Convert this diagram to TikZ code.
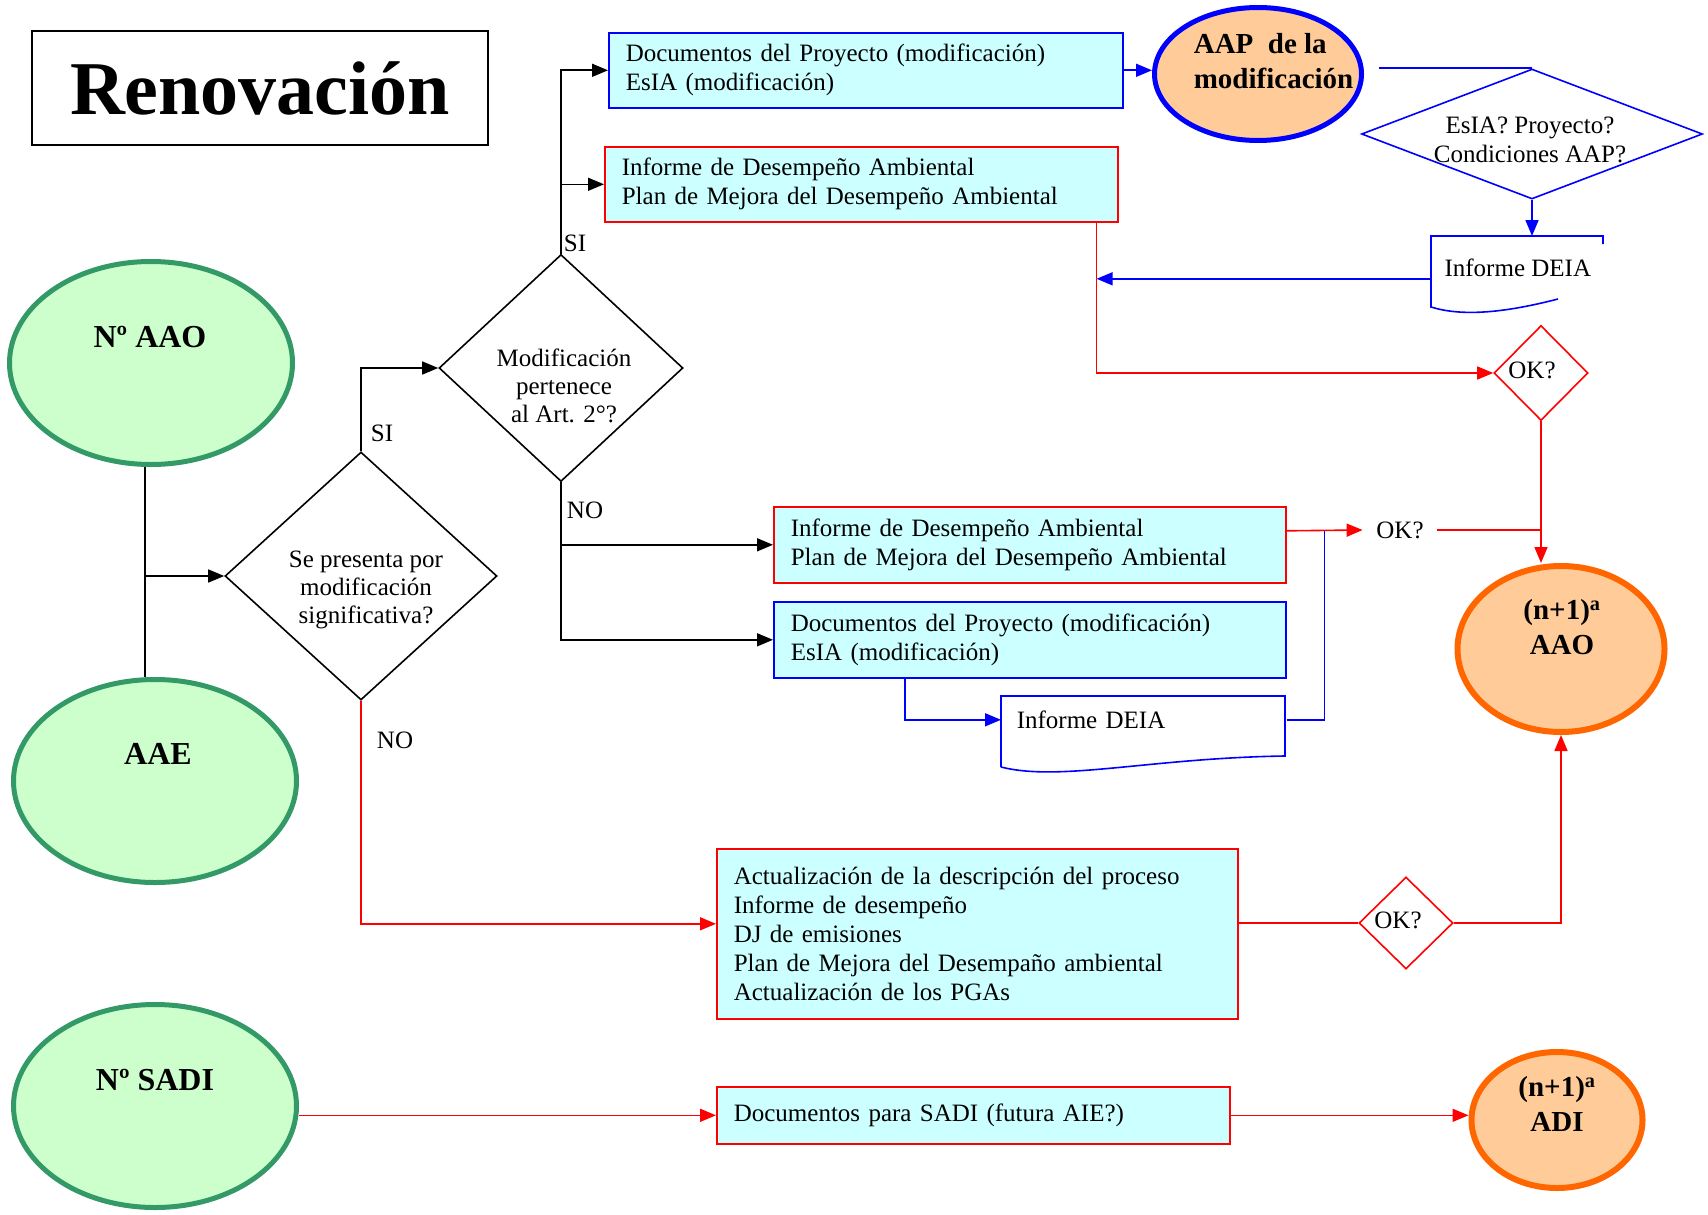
\documentclass[tikz,border=0pt]{standalone}
\usepackage{fontspec}
\setmainfont{Liberation Serif}
\usetikzlibrary{shapes.geometric,arrows.meta}
\definecolor{celeste}{HTML}{CCFFFF}
\definecolor{verdeclaro}{HTML}{CCFFCC}
\definecolor{verde}{HTML}{339966}
\definecolor{salmon}{HTML}{FFCC99}
\definecolor{naranja}{HTML}{FF6600}
\begin{document}
\begin{tikzpicture}[x=1pt,y=-1pt,line width=1.6pt,>={Triangle[length=16pt,width=13pt]},
  every node/.style={font=\fontsize{25}{29}\selectfont},
  grande/.style={font=\bfseries\fontsize{32}{36}\selectfont},
  medio/.style={font=\bfseries\fontsize{29}{35}\selectfont},
  caja/.style={rectangle,draw,fill=celeste,anchor=north west,align=left,inner xsep=17pt,inner ysep=0pt},
  verdes/.style={ellipse,draw=verde,fill=verdeclaro,line width=5pt,minimum width=283pt,minimum height=203pt},
  naranjas/.style={ellipse,draw=naranja,fill=salmon,line width=6pt},
  rombo/.style={diamond,draw,inner sep=0pt},
  azul/.style={draw=blue,blue},
  rojo/.style={draw=red,red}]
  \useasboundingbox (0,0) rectangle (1708,1215);
  \node[draw,minimum width=456pt,minimum height=114pt,font=\bfseries\fontsize{76}{80}\selectfont] (titulo) at (260,88) {Renovación};
  \node[verdes] (aao) at (151,363) {};
  \node[verdes] (aae) at (155,781) {};
  \node[verdes] (sadi) at (155,1106) {};
  \node[grande] (aaotxt) at (150,337) {Nº AAO};
  \node[grande] (aaetxt) at (158,754) {AAE};
  \node[grande] (saditxt) at (155,1080) {Nº SADI};
  \node[ellipse,draw=blue,fill=salmon,line width=5pt,minimum width=207pt,minimum height=133pt] (aap) at (1258,74) {};
  \node[medio,align=left,anchor=west,inner sep=0pt] (aaptxt) at (1193,61) {AAP\ \ de la\\modificación};
  \node[naranjas,minimum width=207pt,minimum height=166pt] (aao2) at (1561,649) {};
  \node[medio,align=center] (aao2txt) at (1562,627) {(n+1)\textsuperscript{a}\\AAO};
  \node[naranjas,minimum width=171pt,minimum height=136pt] (adi) at (1557,1120) {};
  \node[medio,align=center] (aditxt) at (1557,1104) {(n+1)\textsuperscript{a}\\ADI};

  \node[rombo,minimum width=272pt,minimum height=248pt] (d1) at (361,576) {};
  \node[align=center,font=\fontsize{25}{28}\selectfont] (d1txt) at (366,590) {Se presenta por\\modificación\\significativa?};
  \node[rombo,minimum width=244pt,minimum height=227pt] (d2) at (561,368) {};
  \node[align=center,font=\fontsize{25}{28}\selectfont] (d2txt) at (564,386) {Modificación\\pertenece\\al Art. 2°?};
  \node[rombo,draw=blue,minimum width=341pt,minimum height=130pt] (esia) at (1532,134) {};
  \node[align=center] (esiatxt) at (1530,140) {EsIA? Proyecto?\\Condiciones AAP?};
  \node[rombo,draw=red,minimum width=94pt,minimum height=95pt] (ok1) at (1541,373) {};
  \node (ok1txt) at (1532,370) {OK?};
  \node[rombo,draw=red,minimum width=94pt,minimum height=92pt] (ok3) at (1406,923) {};
  \node (ok3txt) at (1398,920) {OK?};
  \node[inner xsep=13pt] (ok2) at (1400,530) {OK?};

  \node[caja,draw=blue,text width=480pt,minimum height=75pt] (cajaA) at (608,32) {Documentos del Proyecto (modificación)\\EsIA (modificación)};
  \node[caja,draw=red,text width=479pt,minimum height=75pt] (cajaB) at (604,146) {Informe de Desempeño Ambiental\\Plan de Mejora del Desempeño Ambiental};
  \node[caja,draw=red,text width=478pt,minimum height=76pt] (cajaC) at (773,506) {Informe de Desempeño Ambiental\\Plan de Mejora del Desempeño Ambiental};
  \node[caja,draw=blue,text width=478pt,minimum height=76pt] (cajaD) at (773,601) {Documentos del Proyecto (modificación)\\EsIA (modificación)};
  \node[caja,draw=red,text width=487pt,minimum height=170pt] (cajaE) at (716,848) {Actualización de la descripción del proceso\\Informe de desempeño\\DJ de emisiones\\Plan de Mejora del Desempaño ambiental\\Actualización de los PGAs};
  \node[caja,draw=red,text width=479pt,minimum height=57pt] (cajaF) at (716,1086) {Documentos para SADI (futura AIE?)};

  \node[anchor=north west,minimum width=172pt,minimum height=62pt,inner sep=0pt] (deia1) at (1431,236) {Informe DEIA};
  \draw[azul] (1603,244) -- (1603,236) -- (1431,236) -- (1431,307) .. controls (1460,316) and (1500,314) .. (1558,299);
  \node[anchor=north west,align=left,text width=254pt,inner xsep=15pt,inner ysep=0pt,minimum height=46pt] (deia2) at (1001,696) {Informe DEIA};
  \draw[azul] (1001,767) -- (1001,696) -- (1285,696) -- (1285,756) .. controls (1150,758) and (1060,782) .. (1001,767);

  \node (si1) at (382,433) {SI};
  \node (si2) at (575,243) {SI};
  \node (no1) at (395,740) {NO};
  \node (no2) at (585,510) {NO};

  \draw ([xshift=-6pt]aao.south) -- ([xshift=-6pt]aao.south |- aae.north);
  \draw[->] ([xshift=-6pt]aao.south |- d1.west) -- (d1.west);
  \draw[->] (d1.north) |- (d2.west);
  \draw[->] (d2.north) |- (cajaA.west);
  \draw[->] (d2.north |- cajaB.west) -- (cajaB.west);
  \draw[->] (d2.south) |- (cajaD.west);
  \draw[->] (d2.south |- cajaC.west) -- (cajaC.west);
  \draw[rojo,->] (d1.south) |- ([yshift=10pt]cajaE.west);
  \draw[azul,->] (cajaA.east) -- (aap.west |- cajaA.east);
  \draw[azul] ([xshift=15pt]aap.east |- esia.north) -- (esia.north);
  \draw[azul,->] (esia.south) -- (esia.south |- deia1.north);
  \coordinate (jB) at ([xshift=-22pt]cajaB.south east);
  \draw[azul,->] ([yshift=-11pt]deia1.west) -- ([yshift=-11pt]deia1.west -| jB);
  \draw[rojo,->] (jB) |- (ok1.west);
  \draw[rojo,->] (ok1.south) -- (ok1.south |- aao2.north);
  \draw[rojo,->] ([yshift=14pt]cajaC.east) -- (ok2.west);
  \draw[rojo] (ok2.east) -- (ok2.east -| ok1.south);
  \coordinate (jC) at ([xshift=38pt,yshift=14pt]cajaC.east);
  \draw[azul] (deia2.east) -| (jC);
  \draw[azul,->] ([xshift=132pt]cajaD.south west) |- (deia2.west);
  \draw[rojo] (cajaE.east |- ok3.west) -- (ok3.west);
  \draw[rojo,->] (ok3.east) -| (aao2.south);
  \draw[rojo,->] (sadi.east |- cajaF.west) -- (cajaF.west);
  \draw[rojo,->] (cajaF.east) -- (cajaF.east -| adi.west);
\end{tikzpicture}
\end{document}
